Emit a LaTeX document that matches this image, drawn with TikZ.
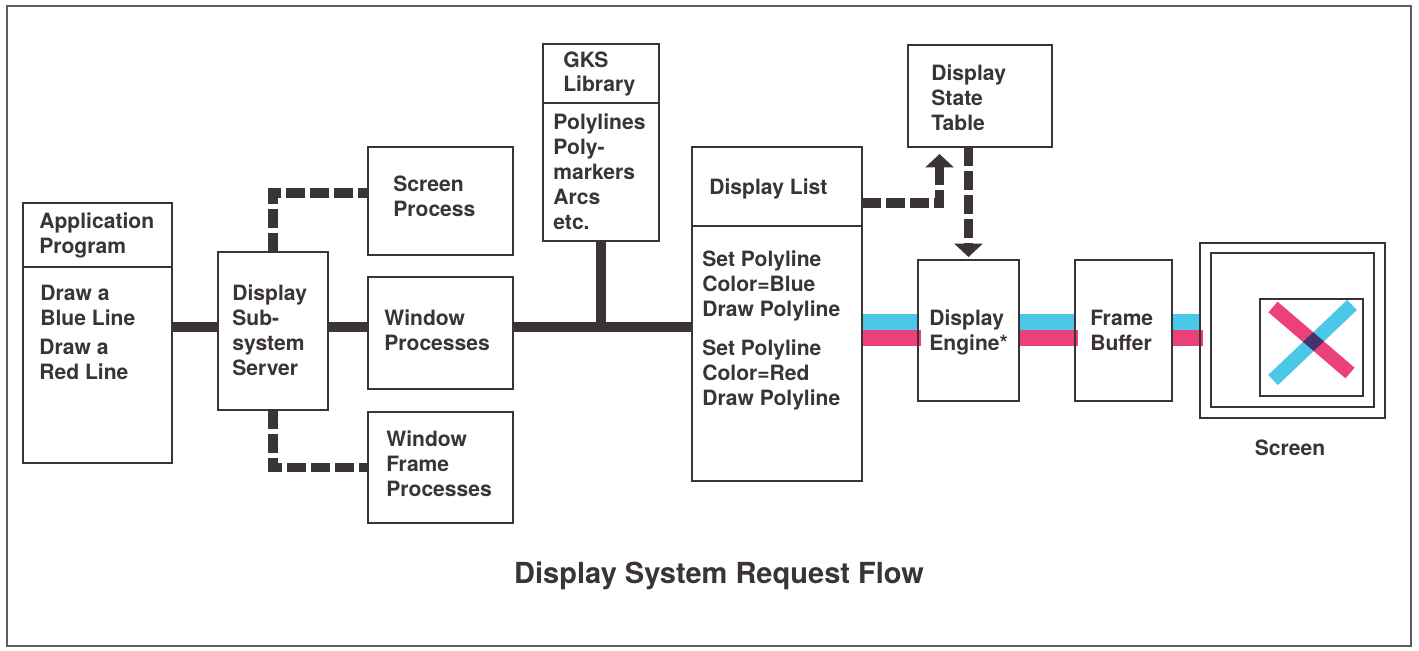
\documentclass[tikz,border=0pt]{standalone}
\usepackage{fontspec}
\setmainfont{TeX Gyre Heros}
\usetikzlibrary{positioning,arrows.meta,calc,backgrounds}
\definecolor{ink}{RGB}{58,52,52}
\definecolor{rim}{RGB}{95,90,95}
\definecolor{beamblue}{RGB}{75,200,232}
\definecolor{beamred}{RGB}{236,64,122}

\begin{document}
\begin{tikzpicture}[x=0.02cm, y=-0.02cm,
    blk/.style={draw=ink, line width=1.3pt, inner sep=0pt, outer sep=0pt},
    txt/.style={font=\fontsize{12pt}{14.2pt}\selectfont\bfseries, text=ink,
                align=left, anchor=west, inner sep=0pt},
    bus/.style={draw=ink, line width=0.2cm},
    dashlink/.style={draw=ink, line width=0.19cm, dash pattern=on 0.38cm off 0.1cm},
    headed/.style={-{Triangle[width=0.56cm, length=0.27cm]}},
    beam/.style={line width=0.32cm}
]
\useasboundingbox (0,0) rectangle (1419,651);
\draw[rim, line width=1pt] (7,6) rectangle (1411,646);

% boxes
\node[blk, minimum width=2.98cm, minimum height=1.28cm] (apphead) at (97.5,235) {};
\node[blk, minimum width=2.98cm, minimum height=3.92cm, below=0pt of apphead] (appbody) {};
\node[blk, minimum width=2.20cm, minimum height=3.16cm] (dss) at (273,331) {};
\node[blk, minimum width=2.90cm, minimum height=2.16cm] (scr) at (440.5,201) {};
\node[blk, minimum width=2.90cm, minimum height=2.24cm] (win) at (440.5,333) {};
\node[blk, minimum width=2.90cm, minimum height=2.22cm] (wfr) at (440.5,467.5) {};
\node[blk, minimum width=2.32cm, minimum height=1.18cm] (gkshead) at (601,73.5) {};
\node[blk, minimum width=2.32cm, minimum height=2.76cm, below=0pt of gkshead] (gksbody) {};
\node[blk, minimum width=3.40cm, minimum height=1.58cm] (dlhead) at (777,186.5) {};
\node[blk, minimum width=3.40cm, minimum height=5.10cm, below=0pt of dlhead] (dlbody) {};
\node[blk, minimum width=2.88cm, minimum height=2.04cm] (dst) at (980,96) {};
\node[blk, minimum width=2.02cm, minimum height=2.82cm] (deng) at (968.5,330.5) {};
\node[blk, minimum width=1.94cm, minimum height=2.82cm] (fbuf) at (1123.5,330.5) {};
\node[blk, minimum width=3.70cm, minimum height=3.50cm] (monitor) at (1292.5,330.5) {};
\node[blk, minimum width=3.26cm, minimum height=3.08cm] (monface) at (1292.5,330) {};
\node[blk, minimum width=2.06cm, minimum height=1.94cm] (xwin) at (1311.5,347.5) {};

% texts
\node[txt] (tapp)  at (39,235)   {Application\\Program};
\node[txt] (tblue) at (40,305)   {Draw a\\Blue Line};
\node[txt] (tred)  at (39,359.5) {Draw a\\Red Line};
\node[txt] (tdss)  at (232,330)  {Display\\Sub-\\system\\Server};
\node[txt] (tscr)  at (393,196)  {Screen\\Process};
\node[txt] (twin)  at (384,330.5) {Window\\Processes};
\node[txt] (twfr)  at (386,463.5) {Window\\Frame\\Processes};
\node[txt] (tgks)  at (563,74)   {GKS\\Library};
\node[txt] (tprim) at (553,171.6) {Polylines\\Poly-\\markers\\Arcs\\etc.};
\node[txt] (tdl)   at (709,189)  {Display List};
\node[txt] (tsetb) at (702,286)  {Set Polyline\\Color=Blue\\Draw Polyline};
\node[txt] (tsetr) at (702,375)  {Set Polyline\\Color=Red\\Draw Polyline};
\node[txt] (tdst)  at (931,98)   {Display\\State\\Table};
\node[txt] (teng)  at (929,332)  {Display\\Engine*};
\node[txt] (tfb)   at (1090,330.5) {Frame\\Buffer};
\node[txt, anchor=center] (tmon) at (1290,448) {Screen};
\node[txt, anchor=center, font=\fontsize{16.5pt}{19pt}\selectfont\bfseries] (title) at (719,576)
    {Display System Request Flow};

% request bus
\coordinate (buslevel) at (0,327);
\draw[bus] (appbody.east |- buslevel) -- (dss.west |- buslevel);
\draw[bus] (dss.east |- buslevel) -- (win.west |- buslevel);
\draw[bus] (win.east |- buslevel) -- (dlbody.west |- buslevel);
\draw[bus] (gksbody.south) -- (gksbody.south |- buslevel);

\draw[dashlink] (dss.north) |- ([yshift=0.16cm]scr.west);
\draw[dashlink] (dss.south) |- (wfr.west);
\draw[dashlink, headed] ([yshift=-0.33cm]dlhead.east) -| ([xshift=0.63cm,yshift=-0.14cm]dst.south west);
\draw[dashlink, headed, shorten >=0.06cm] (deng.north |- dst.south) -- (deng.north);

% colour beams
\begin{scope}[on background layer]
\foreach \a/\b in {dlbody/deng, deng/fbuf, fbuf/monitor} {
  \draw[beam, beamblue] ($(\a.east |- \b.west)+(0,-8)$) -- ($(\b.west)+(0,-8)$);
  \draw[beam, beamred]  ($(\a.east |- \b.west)+(0,8)$) -- ($(\b.west)+(3,8)$);
}
\end{scope}
\draw[line width=0.28cm, beamred] ($(xwin.north west)+(13,8)$) -- ($(xwin.north west)+(90,74)$);
\draw[line width=0.28cm, beamblue, blend mode=multiply] ($(xwin.north west)+(92,6)$) -- ($(xwin.north west)+(13,81)$);

\end{tikzpicture}
\end{document}
